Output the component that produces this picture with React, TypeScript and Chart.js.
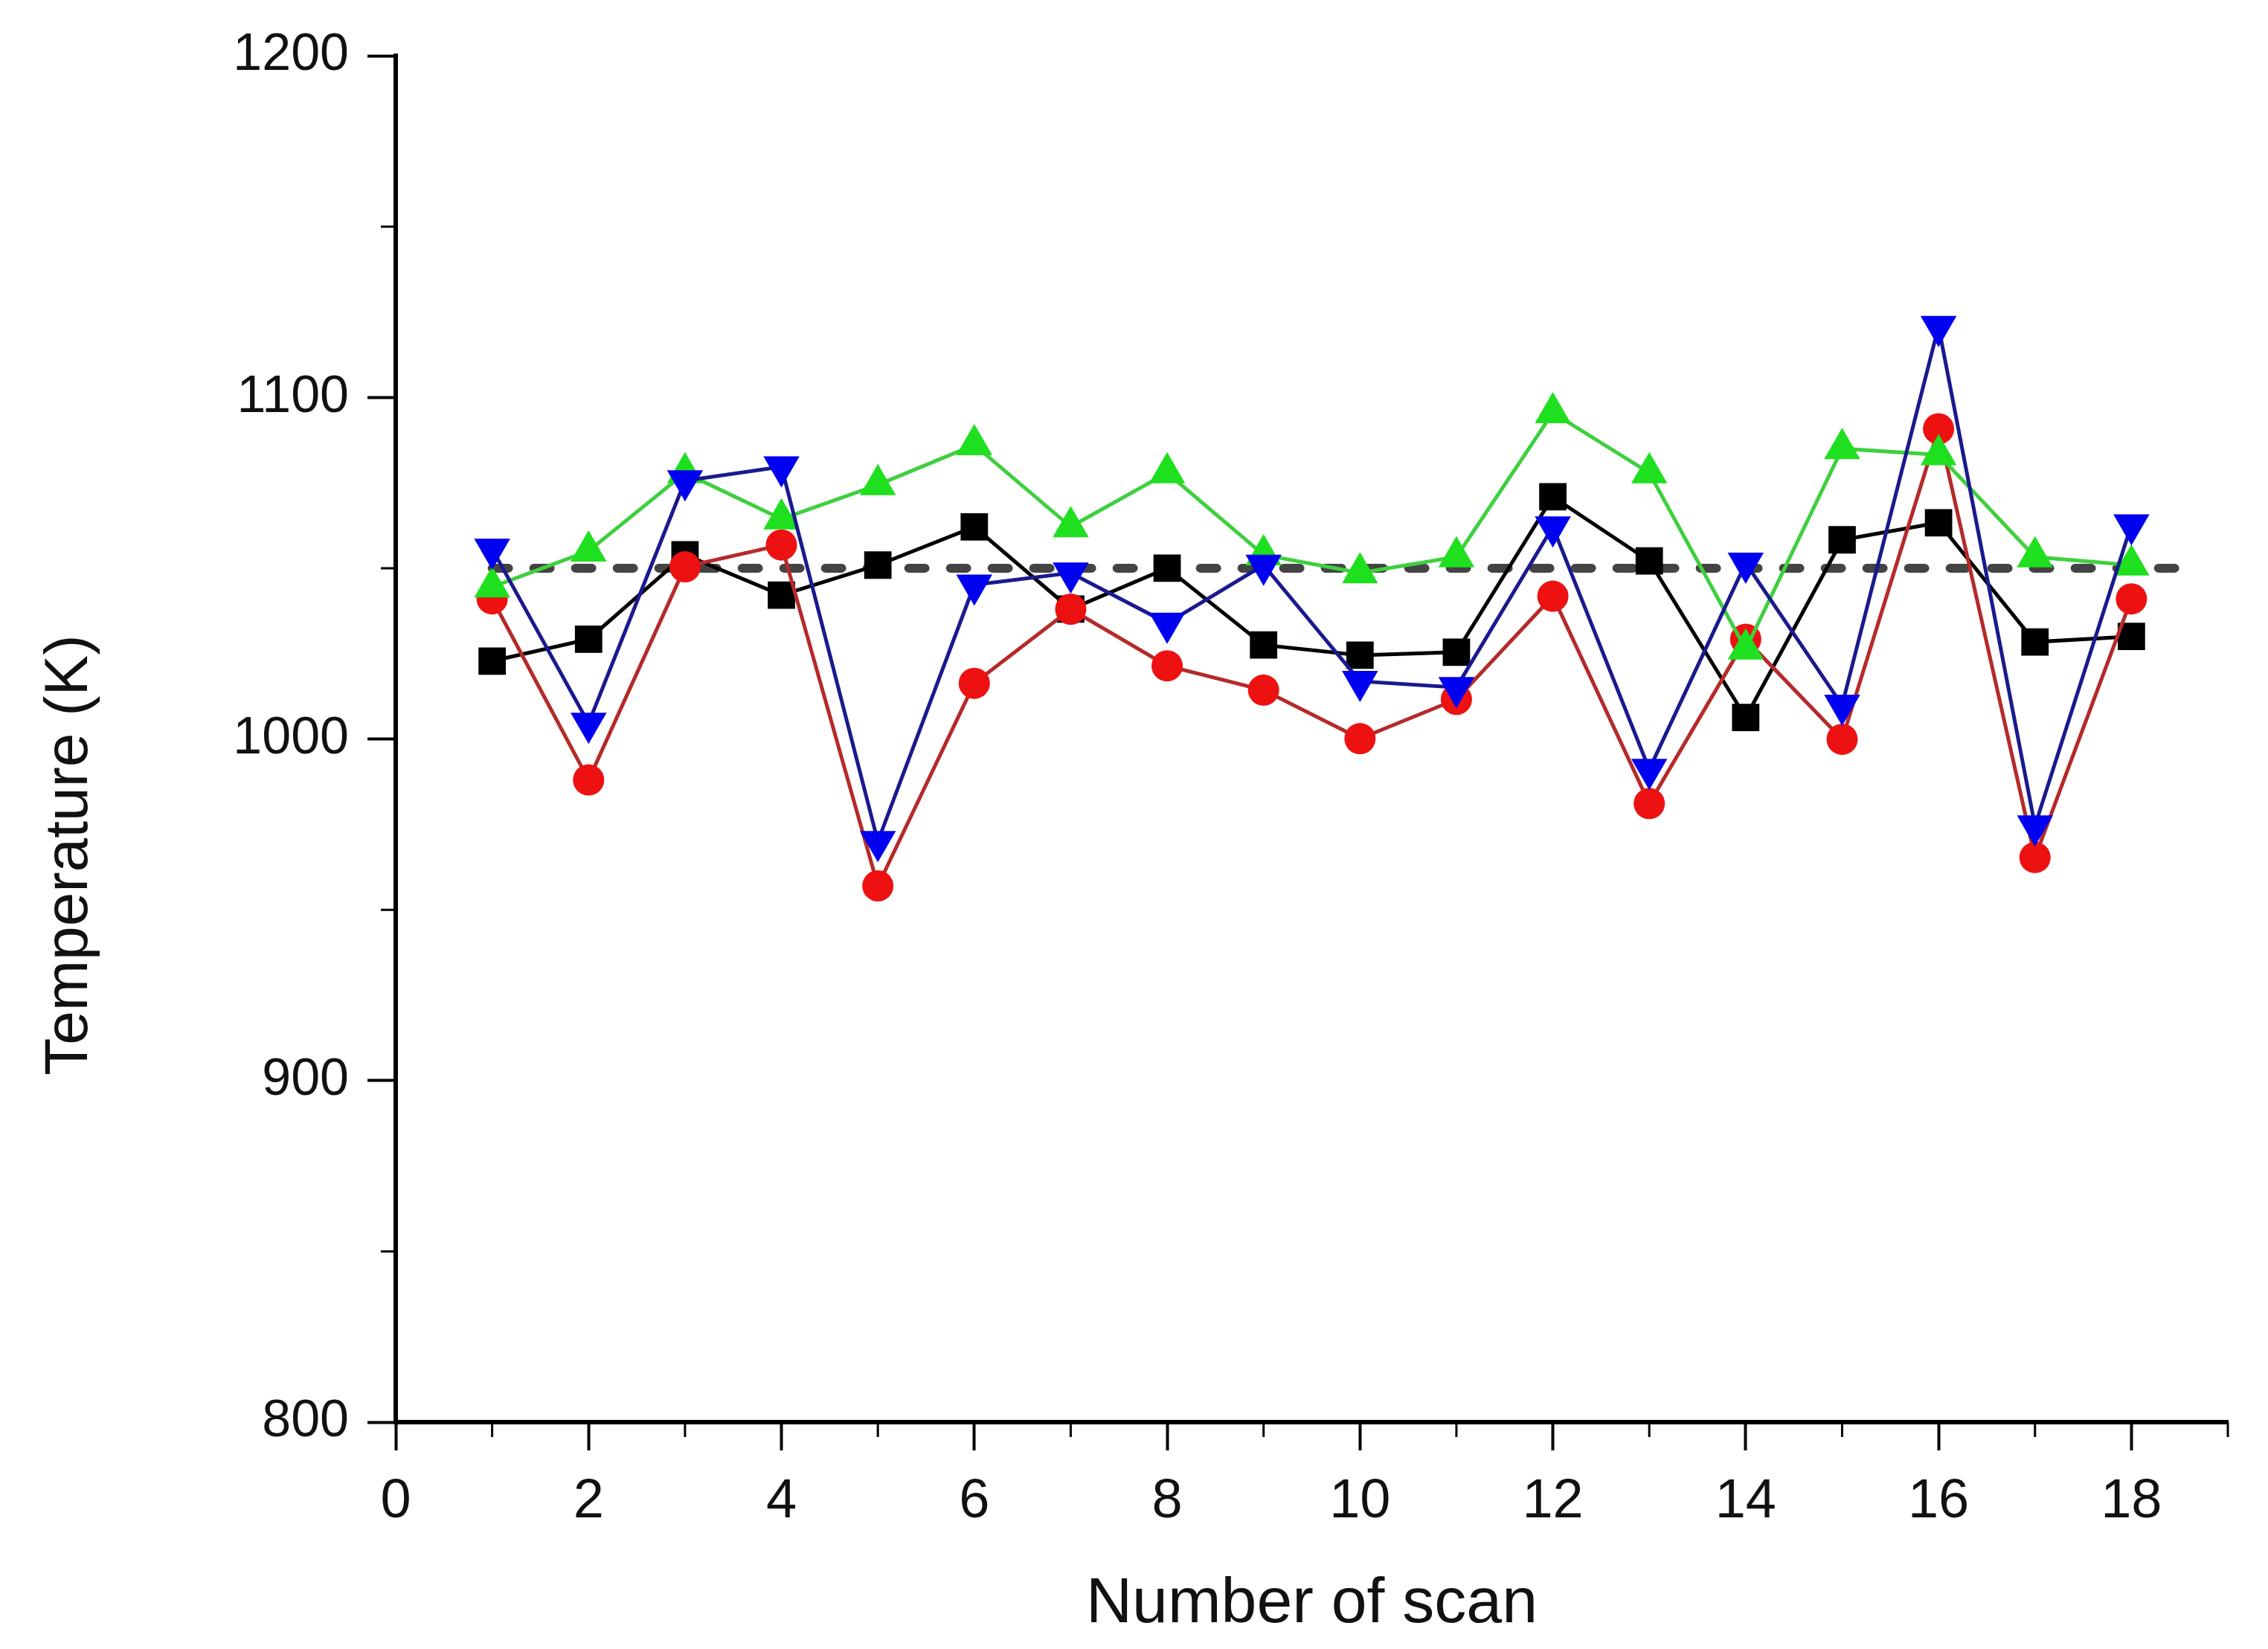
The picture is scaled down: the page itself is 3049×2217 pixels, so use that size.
import React, { useEffect, useRef } from "react";
import { Chart, registerables } from "chart.js";

Chart.register(...registerables);

const scans = [1, 2, 3, 4, 5, 6, 7, 8, 9, 10, 11, 12, 13, 14, 15, 16, 17, 18];
const blackSquares = [1022.8, 1029.2, 1053.9, 1042.1, 1050.9, 1062.1, 1038, 1050, 1027.5, 1024.5, 1025.4, 1070.9, 1052.1, 1006.3, 1058.3, 1063.3, 1028.4, 1030];
const redCircles = [1041, 988, 1050.4, 1056.8, 957, 1016.3, 1038, 1021.4, 1014.3, 1000.1, 1011.6, 1041.8, 981.1, 1029.2, 999.9, 1090.8, 965.3, 1041];
const blueTriangles = [1055.6, 1004.6, 1075.6, 1079.7, 970, 1045.1, 1048.6, 1033.9, 1050.9, 1016.9, 1015.1, 1062.1, 991.1, 1051.5, 1009.9, 1120.8, 974.6, 1062.7];
const greenTriangles = [1044.5, 1055, 1077.9, 1064.4, 1074.4, 1086.1, 1062.1, 1077.9, 1053.9, 1048.6, 1053.3, 1095.5, 1077.9, 1026.3, 1085, 1083.2, 1053.3, 1050.9];
const referenceX = [1, 18.7];
const referenceY = [1050, 1050];
const xMajorTicks = [0, 2, 4, 6, 8, 10, 12, 14, 16, 18];
const xMinorTicks = [1, 3, 5, 7, 9, 11, 13, 15, 17, 19];
const yMinorTicks = [850, 950, 1050, 1150];
const xTitle = "Number of scan";
const yTitle = "Temperature (K)";

const FONT = "'Liberation Sans', Arial, sans-serif";

const pts = (xs: number[], ys: number[]) => xs.map((x, i) => ({ x, y: ys[i] }));

const minorTickPlugin = {
  id: "minorTicks",
  afterDraw(chart: any) {
    const { ctx, scales } = chart;
    const xs = scales.x;
    const ys = scales.y;
    ctx.save();
    ctx.strokeStyle = "#000";
    ctx.lineWidth = 3;
    ctx.beginPath();
    const yBase = ys.getPixelForValue(800);
    for (const v of xMinorTicks) {
      const px = xs.getPixelForValue(v);
      ctx.moveTo(px, yBase);
      ctx.lineTo(px, yBase + 20);
    }
    const xBase = xs.getPixelForValue(0);
    for (const v of yMinorTicks) {
      const py = ys.getPixelForValue(v);
      ctx.moveTo(xBase, py);
      ctx.lineTo(xBase - 20, py);
    }
    ctx.stroke();
    ctx.restore();
  },
};

const yTitlePlugin = {
  id: "yTitle",
  afterDraw(chart: any) {
    const { ctx, chartArea } = chart;
    const cy = chartArea.top + (chartArea.bottom - chartArea.top) * 0.585;
    ctx.save();
    ctx.translate(86, cy);
    ctx.rotate(-Math.PI / 2);
    ctx.font = `82px ${FONT}`;
    ctx.fillStyle = "#111";
    ctx.textAlign = "center";
    ctx.textBaseline = "middle";
    ctx.fillText(yTitle, 0, 0);
    ctx.restore();
  },
};

export default function App() {
  const ref = useRef<HTMLCanvasElement | null>(null);

  useEffect(() => {
    if (!ref.current) return;
    const chart = new Chart(ref.current, {
      type: "line",
      data: {
        datasets: [
          {
            label: "blue",
            data: pts(scans, blueTriangles),
            borderColor: "#1a1a8e",
            borderWidth: 5,
            pointStyle: "triangle",
            pointRotation: 180,
            pointRadius: 28,
            pointBackgroundColor: "#0000f0",
            pointBorderWidth: 0,
            order: 0,
          },
          {
            label: "green",
            data: pts(scans, greenTriangles),
            borderColor: "#3fcf3f",
            borderWidth: 5,
            pointStyle: "triangle",
            pointRadius: 28,
            pointBackgroundColor: "#1fe01f",
            pointBorderWidth: 0,
            order: 1,
          },
          {
            label: "red",
            data: pts(scans, redCircles),
            borderColor: "#b52a2a",
            borderWidth: 5,
            pointStyle: "circle",
            pointRadius: 21,
            pointBackgroundColor: "#ee1111",
            pointBorderWidth: 0,
            order: 2,
          },
          {
            label: "black",
            data: pts(scans, blackSquares),
            borderColor: "#000",
            borderWidth: 5,
            pointStyle: "rect",
            pointRadius: 26,
            pointBackgroundColor: "#000",
            pointBorderWidth: 0,
            order: 3,
          },
          {
            label: "reference",
            data: pts(referenceX, referenceY),
            borderColor: "#444",
            borderWidth: 12,
            borderDash: [22, 34],
            borderCapStyle: "round",
            pointRadius: 0,
            order: 4,
          },
        ],
      },
      options: {
        animation: false,
        responsive: false,
        maintainAspectRatio: false,
        layout: { padding: { top: 66, right: 46, left: 0, bottom: 0 } },
        plugins: { legend: { display: false }, tooltip: { enabled: false } },
        elements: { line: { tension: 0 } },
        scales: {
          x: {
            type: "linear",
            min: 0,
            max: 19,
            afterBuildTicks: (scale: any) => {
              scale.ticks = xMajorTicks.map((v) => ({ value: v }));
            },
            afterFit: (scale: any) => {
              scale.height = 297;
            },
            ticks: {
              font: { family: FONT, size: 74 },
              color: "#111",
              padding: 25,
              maxRotation: 0,
              autoSkip: false,
              callback: (v: any) => String(v),
            },
            grid: {
              display: true,
              drawOnChartArea: false,
              drawTicks: true,
              tickLength: 38,
              tickWidth: 4,
              tickColor: "#000",
            },
            border: { display: true, color: "#000", width: 6 },
            title: {
              display: true,
              text: xTitle,
              font: { family: FONT, size: 86, lineHeight: 1.2 },
              color: "#111",
              padding: { top: 0, bottom: 0 },
            },
          },
          y: {
            type: "linear",
            min: 800,
            max: 1200,
            afterFit: (scale: any) => {
              scale.width = 524;
            },
            ticks: {
              stepSize: 100,
              font: { family: FONT, size: 70 },
              color: "#111",
              padding: 25,
              callback: (v: any) => String(v),
            },
            grid: {
              display: true,
              drawOnChartArea: false,
              drawTicks: true,
              tickLength: 38,
              tickWidth: 4,
              tickColor: "#000",
            },
            border: { display: true, color: "#000", width: 6 },
          },
        },
      },
      plugins: [minorTickPlugin, yTitlePlugin],
    } as any);
    return () => chart.destroy();
  }, []);

  return (
    <div style={{ width: 3033, height: 2201, background: "#fff" }}>
      <canvas ref={ref} width={3033} height={2201} style={{ width: 3033, height: 2201, display: "block" }} />
    </div>
  );
}
